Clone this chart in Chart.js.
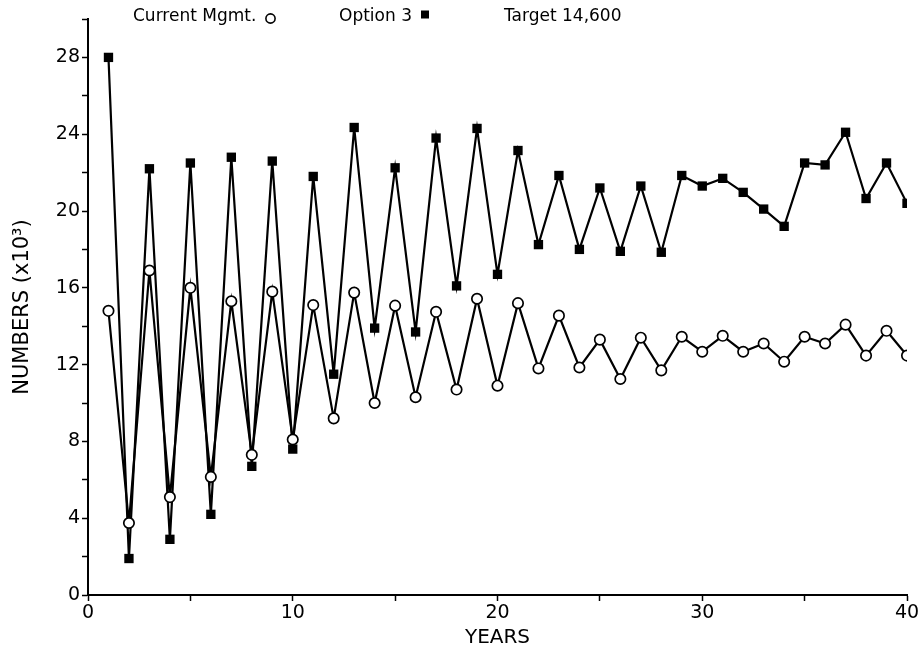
<!DOCTYPE html>
<html>
<head>
<meta charset="utf-8">
<script src="https://cdn.jsdelivr.net/npm/chart.js@4.4.1/dist/chart.umd.min.js"></script>
<style>
  html, body { margin: 0; padding: 0; background: #fff; }
  #wrap { width: 921px; height: 657px; position: relative; }
</style>
</head>
<body>
<div id="wrap"><canvas id="c" width="921" height="657"></canvas></div>
<script>
const years = [1,2,3,4,5,6,7,8,9,10,11,12,13,14,15,16,17,18,19,20,21,22,23,24,25,26,27,28,29,30,31,32,33,34,35,36,37,38,39,40];
const currentMgmt = [14.8,3.75,16.9,5.1,16.0,6.15,15.3,7.3,15.8,8.1,15.1,9.2,15.75,10.0,15.07,10.3,14.75,10.7,15.43,10.9,15.2,11.8,14.55,11.85,13.3,11.25,13.4,11.7,13.45,12.67,13.5,12.67,13.1,12.15,13.45,13.1,14.08,12.47,13.76,12.47];
const option3 = [28.0,1.9,22.2,2.9,22.5,4.2,22.8,6.7,22.6,7.6,21.8,11.5,24.35,13.9,22.25,13.7,23.8,16.1,24.3,16.7,23.15,18.25,21.85,18.0,21.2,17.9,21.3,17.85,21.85,21.3,21.7,20.97,20.1,19.2,22.5,22.4,24.1,20.65,22.5,20.4];
const seriesNames = ["Current Mgmt.", "Option 3"];
const targetLabel = "Target 14,600";
const xTitle = "YEARS";
const yTitle = "NUMBERS (x10\u00B3)";

const FONT = "'DejaVu Sans', sans-serif";

const headerPlugin = {
  id: 'header',
  afterDraw(chart) {
    const ctx = chart.ctx;
    ctx.save();
    ctx.fillStyle = '#000';
    ctx.strokeStyle = '#000';
    ctx.font = "17px " + FONT;
    ctx.textBaseline = 'middle';
    ctx.textAlign = 'left';
    ctx.fillText(seriesNames[0], 133, 17);
    ctx.lineWidth = 1.6;
    ctx.beginPath();
    ctx.arc(270.5, 18.5, 4.6, 0, Math.PI * 2);
    ctx.stroke();
    ctx.fillText(seriesNames[1], 339, 17);
    ctx.fillRect(421, 10.5, 8, 8);
    ctx.fillText(targetLabel, 504, 17);
    ctx.restore();
  }
};

new Chart(document.getElementById('c'), {
  type: 'line',
  data: {
    datasets: [
      {
        label: seriesNames[0],
        data: years.map((x, i) => ({ x: x, y: currentMgmt[i] })),
        borderColor: '#000',
        borderWidth: 2.2,
        backgroundColor: '#fff',
        pointStyle: 'circle',
        pointRadius: 5.2,
        pointBorderWidth: 1.7,
        pointBackgroundColor: '#fff',
        pointBorderColor: '#000',
        tension: 0,
        order: 1
      },
      {
        label: seriesNames[1],
        data: years.map((x, i) => ({ x: x, y: option3[i] })),
        borderColor: '#000',
        borderWidth: 2.2,
        backgroundColor: '#000',
        pointStyle: 'rect',
        pointRadius: 6.6,
        pointBorderWidth: 0,
        pointBackgroundColor: '#000',
        pointBorderColor: '#000',
        tension: 0,
        order: 2
      }
    ]
  },
  options: {
    responsive: false,
    animation: false,
    devicePixelRatio: 1,
    layout: { padding: { top: 19, right: 14, left: 0, bottom: 0 } },
    plugins: { legend: { display: false }, tooltip: { enabled: false }, title: { display: false } },
    scales: {
      x: {
        type: 'linear',
        min: 0, max: 40,
        afterFit(scale) { scale.height = 62; },
        border: { display: true, color: '#000', width: 2 },
        grid: { display: true, drawOnChartArea: false, drawTicks: true, tickLength: 6, tickColor: '#000', tickWidth: 1.5 },
        ticks: {
          stepSize: 5,
          color: '#000',
          font: { family: FONT, size: 19 },
          padding: 1,
          maxRotation: 0,
          autoSkip: false,
          callback: (v) => (v % 10 === 0 ? String(v) : '')
        },
        title: { display: true, text: xTitle, color: '#000', font: { family: FONT, size: 20 }, padding: { top: 0, bottom: 7 } }
      },
      y: {
        type: 'linear',
        min: 0, max: 30,
        afterFit(scale) { scale.width = 88; },
        border: { display: true, color: '#000', width: 2 },
        grid: { display: true, drawOnChartArea: false, drawTicks: true, tickLength: 6, tickColor: '#000', tickWidth: 1.5 },
        ticks: {
          stepSize: 2,
          color: '#000',
          font: { family: FONT, size: 19 },
          padding: 2,
          autoSkip: false,
          callback: (v) => (v % 4 === 0 && v <= 28 ? String(v) : '')
        },
        title: { display: true, text: yTitle, color: '#000', font: { family: FONT, size: 21 }, padding: { top: 10, bottom: 0 } }
      }
    }
  },
  plugins: [headerPlugin]
});
</script>
</body>
</html>
